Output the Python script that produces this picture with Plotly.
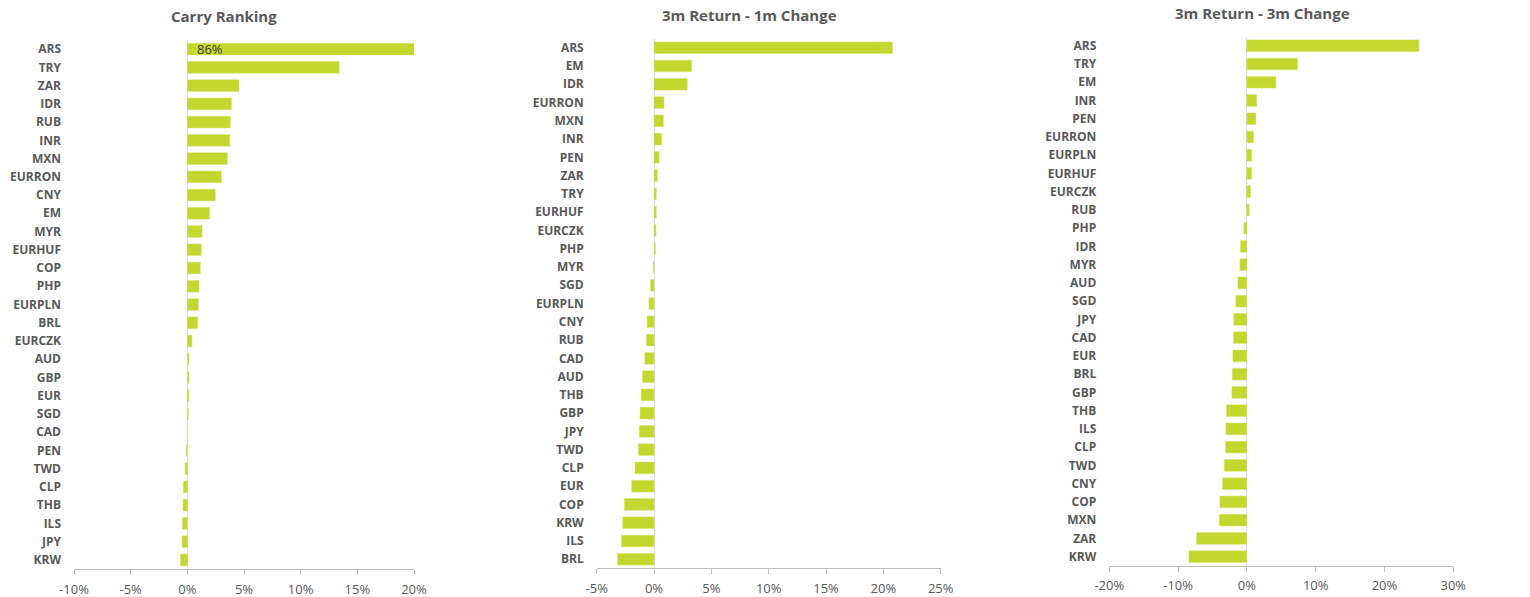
import plotly.graph_objects as go

carry_cats = ["ARS","TRY","ZAR","IDR","RUB","INR","MXN","EURRON","CNY","EM","MYR","EURHUF","COP","PHP",
              "EURPLN","BRL","EURCZK","AUD","GBP","EUR","SGD","CAD","PEN","TWD","CLP","THB","ILS","JPY","KRW"]
carry_vals = [86, 13.4, 4.56, 3.9, 3.8, 3.74, 3.53, 3.0, 2.47, 1.97, 1.3, 1.24, 1.15, 1.03,
              0.97, 0.91, 0.41, 0.15, 0.15, 0.15, 0.1, 0.0, -0.1, -0.2, -0.35, -0.38, -0.44, -0.47, -0.62]

r1m_cats = ["ARS","EM","IDR","EURRON","MXN","INR","PEN","ZAR","TRY","EURHUF","EURCZK","PHP","MYR","SGD",
            "EURPLN","CNY","RUB","CAD","AUD","THB","GBP","JPY","TWD","CLP","EUR","COP","KRW","ILS","BRL"]
r1m_vals = [20.8, 3.29, 2.9, 0.87, 0.82, 0.67, 0.44, 0.29, 0.2, 0.2, 0.17, 0.12, -0.07, -0.3,
            -0.44, -0.6, -0.67, -0.81, -1.02, -1.13, -1.22, -1.28, -1.37, -1.66, -1.95, -2.59, -2.73, -2.85, -3.17]

r3m_cats = ["ARS","TRY","EM","INR","PEN","EURRON","EURPLN","EURHUF","EURCZK","RUB","PHP","IDR","MYR","AUD",
            "SGD","JPY","CAD","EUR","BRL","GBP","THB","ILS","CLP","TWD","CNY","COP","MXN","ZAR","KRW"]
r3m_vals = [25.0, 7.37, 4.22, 1.41, 1.31, 0.97, 0.68, 0.68, 0.53, 0.34, -0.44, -0.92, -1.02, -1.31,
            -1.6, -1.89, -1.94, -2.04, -2.13, -2.18, -2.96, -3.05, -3.1, -3.29, -3.53, -3.92, -4.02, -7.32, -8.43]

titles = ["Carry Ranking", "3m Return - 1m Change", "3m Return - 3m Change"]
x_ranges = [[-10, 20], [-5, 25], [-20, 30]]
x_dtick = [5, 5, 10]

W, H = 1530, 597
# pixel geometry: (x_left, x_right, y_top, y_bottom)
geo = [(74, 414, 40, 569), (596.7, 940.7, 38.6, 568.4), (1109.3, 1453.3, 36.6, 565.8)]
title_pos = [(224, 16), (749.5, 15), (1262, 13)]

BAR = "#C2D82E"
TXT = "#595959"
AX = "#BFBFBF"
FONT = "Open Sans"

fig = go.Figure()
data = [(carry_cats, carry_vals), (r1m_cats, r1m_vals), (r3m_cats, r3m_vals)]
for i, (cats, vals) in enumerate(data):
    n = i + 1
    fig.add_trace(go.Bar(
        x=vals, y=cats, orientation="h",
        marker=dict(color=BAR, line=dict(color="#D4E56A", width=0.5)),
        xaxis=f"x{n}" if n > 1 else "x", yaxis=f"y{n}" if n > 1 else "y",
        hovertemplate="%{y}: %{x:.2f}%<extra></extra>", showlegend=False,
    ))
    xl, xr, yt, yb = geo[i]
    lo, hi = x_ranges[i]
    tv = list(range(lo, hi + 1, x_dtick[i]))
    xa = dict(
        domain=[xl / W, xr / W], range=x_ranges[i], tickvals=tv, ticktext=[f"{v}%" for v in tv],
        showgrid=False, zeroline=True, zerolinecolor="#D9D9D9", zerolinewidth=1,
        showline=True, linecolor=AX, linewidth=1, ticks="outside", tickcolor=AX, ticklen=5,
        ticklabelstandoff=3,
        tickfont=dict(family=FONT, size=13, color=TXT), anchor=f"y{n}" if n > 1 else "y",
        fixedrange=True, automargin=False,
    )
    ya = dict(
        domain=[(H - yb) / H, (H - yt) / H], type="category",
        range=[len(cats) - 0.5, -0.5], showgrid=False, zeroline=False, showline=False,
        ticks="", tickfont=dict(family=FONT, size=12, color=TXT, weight="bold"),
        ticklabelstandoff=12, anchor=f"x{n}" if n > 1 else "x", fixedrange=True,
        automargin=False,
    )
    fig.layout[f"xaxis{n}" if n > 1 else "xaxis"] = xa
    fig.layout[f"yaxis{n}" if n > 1 else "yaxis"] = ya
    tx, ty = title_pos[i]
    fig.add_annotation(text=f"<b>{titles[i]}</b>", xref="paper", yref="paper",
                       x=tx / W, y=(H - ty) / H, xanchor="center", yanchor="middle",
                       showarrow=False, font=dict(family=FONT, size=15, color=TXT))

# data label for clipped ARS carry bar
fig.add_annotation(text=f"{carry_vals[0]:.0f}%", x=0, y=carry_cats[0], xref="x", yref="y",
                   xanchor="left", yanchor="middle", xshift=8, showarrow=False,
                   font=dict(family=FONT, size=13, color="#404040"))

fig.update_layout(width=W, height=H, margin=dict(l=0, r=0, t=0, b=0),
                  plot_bgcolor="white", paper_bgcolor="white", bargap=0.36)
fig.write_html("out.html", config={"displayModeBar": False},
               post_script="document.body.style.margin='0';document.body.style.overflow='hidden';")
